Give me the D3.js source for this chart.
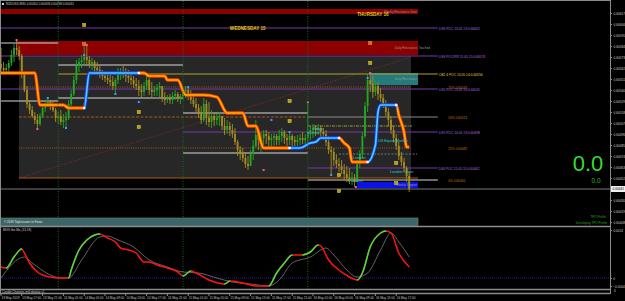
<!DOCTYPE html>
<html>
<head>
<meta charset="utf-8">
<script src="https://cdn.jsdelivr.net/npm/d3@7"></script>
<style>
  html, body { margin: 0; padding: 0; background: #000; overflow: hidden; }
  svg { display: block; }
  text { font-family: "Liberation Sans", "DejaVu Sans", sans-serif; }
</style>
</head>
<body>
<svg width="625" height="301"></svg>
<script>
// NZDUSD M30, bar 0 = 13 May 13:00, one bar per 30 minutes
const title = 'NZDUSD,M30  0.60454 0.60458 0.60438 0.60441';
const firstOpen = 0.60566;

const highs = [
  0.60582,0.60568,0.60566,0.60570,0.60580,0.60586,0.60590,0.60584,0.60576,0.60558,
  0.60544,0.60530,0.60524,0.60518,0.60516,0.60517,0.60526,0.60530,0.60532,0.60530,
  0.60528,0.60522,0.60518,0.60520,0.60516,0.60518,0.60530,0.60540,0.60554,0.60570,
  0.60572,0.60575,0.60586,0.60584,0.60574,0.60572,0.60570,0.60568,0.60564,0.60560,
  0.60558,0.60558,0.60556,0.60554,0.60552,0.60562,0.60562,0.60564,0.60562,0.60560,
  0.60558,0.60554,0.60552,0.60550,0.60546,0.60548,0.60555,0.60552,0.60548,0.60544,
  0.60546,0.60548,0.60544,0.60538,0.60535,0.60536,0.60538,0.60540,0.60538,0.60536,
  0.60542,0.60544,0.60543,0.60540,0.60536,0.60532,0.60526,0.60524,0.60532,0.60530,
  0.60528,0.60520,0.60518,0.60516,0.60518,0.60514,0.60512,0.60510,0.60508,0.60506,
  0.60502,0.60490,0.60484,0.60482,0.60478,0.60474,0.60480,0.60490,0.60510,0.60502,
  0.60498,0.60500,0.60500,0.60498,0.60496,0.60497,0.60496,0.60500,0.60502,0.60500,
  0.60496,0.60498,0.60496,0.60494,0.60495,0.60496,0.60498,0.60496,0.60528,0.60504,
  0.60506,0.60505,0.60506,0.60504,0.60502,0.60500,0.60494,0.60484,0.60482,0.60476,
  0.60472,0.60470,0.60466,0.60464,0.60462,0.60458,0.60456,0.60470,0.60480,0.60498,
  0.60528,0.60556,0.60557,0.60554,0.60550,0.60548,0.60542,0.60536,0.60530,0.60522,
  0.60514,0.60504,0.60496,0.60488,0.60478,0.60472,0.60464,0.60458
];
const lows = [
  0.60558,0.60556,0.60557,0.60558,0.60564,0.60568,0.60575,0.60570,0.60552,0.60538,
  0.60522,0.60516,0.60512,0.60506,0.60500,0.60504,0.60512,0.60518,0.60523,0.60520,
  0.60518,0.60508,0.60506,0.60505,0.60502,0.60502,0.60510,0.60524,0.60534,0.60546,
  0.60558,0.60562,0.60564,0.60566,0.60562,0.60560,0.60558,0.60556,0.60552,0.60550,
  0.60548,0.60546,0.60544,0.60540,0.60536,0.60546,0.60550,0.60552,0.60548,0.60547,
  0.60545,0.60542,0.60540,0.60534,0.60532,0.60534,0.60540,0.60535,0.60532,0.60534,
  0.60534,0.60533,0.60528,0.60525,0.60527,0.60526,0.60526,0.60530,0.60528,0.60526,
  0.60530,0.60532,0.60530,0.60526,0.60523,0.60518,0.60512,0.60506,0.60508,0.60505,
  0.60503,0.60502,0.60504,0.60505,0.60504,0.60500,0.60495,0.60496,0.60494,0.60492,
  0.60485,0.60474,0.60470,0.60468,0.60462,0.60460,0.60464,0.60470,0.60482,0.60480,
  0.60478,0.60485,0.60486,0.60484,0.60482,0.60484,0.60485,0.60485,0.60488,0.60486,
  0.60484,0.60485,0.60484,0.60484,0.60484,0.60485,0.60486,0.60484,0.60486,0.60490,
  0.60492,0.60494,0.60496,0.60492,0.60490,0.60484,0.60476,0.60455,0.60464,0.60462,
  0.60458,0.60456,0.60450,0.60448,0.60446,0.60445,0.60443,0.60450,0.60462,0.60472,
  0.60492,0.60518,0.60538,0.60532,0.60534,0.60530,0.60528,0.60522,0.60514,0.60504,
  0.60496,0.60488,0.60480,0.60470,0.60464,0.60458,0.60448,0.60438
];
const closes = [
  0.60562,0.60560,0.60562,0.60567,0.60575,0.60582,0.60580,0.60574,0.60556,0.60540,
  0.60526,0.60520,0.60514,0.60510,0.60506,0.60514,0.60522,0.60526,0.60530,0.60524,
  0.60520,0.60512,0.60514,0.60508,0.60510,0.60512,0.60526,0.60536,0.60550,0.60564,
  0.60568,0.60570,0.60573,0.60570,0.60566,0.60568,0.60562,0.60560,0.60556,0.60554,
  0.60552,0.60550,0.60548,0.60544,0.60550,0.60556,0.60558,0.60556,0.60554,0.60552,
  0.60550,0.60546,0.60544,0.60540,0.60538,0.60544,0.60550,0.60540,0.60538,0.60540,
  0.60542,0.60544,0.60532,0.60530,0.60532,0.60530,0.60534,0.60536,0.60532,0.60534,
  0.60538,0.60540,0.60536,0.60530,0.60526,0.60522,0.60516,0.60510,0.60526,0.60512,
  0.60508,0.60514,0.60510,0.60512,0.60514,0.60504,0.60500,0.60504,0.60500,0.60496,
  0.60488,0.60480,0.60476,0.60472,0.60466,0.60464,0.60476,0.60484,0.60495,0.60490,
  0.60492,0.60496,0.60494,0.60490,0.60492,0.60494,0.60490,0.60494,0.60498,0.60492,
  0.60490,0.60494,0.60490,0.60488,0.60490,0.60492,0.60490,0.60492,0.60498,0.60500,
  0.60502,0.60500,0.60502,0.60498,0.60496,0.60488,0.60480,0.60478,0.60470,0.60466,
  0.60464,0.60460,0.60456,0.60452,0.60450,0.60452,0.60448,0.60466,0.60476,0.60494,
  0.60524,0.60550,0.60546,0.60538,0.60544,0.60536,0.60532,0.60526,0.60518,0.60510,
  0.60500,0.60492,0.60484,0.60474,0.60468,0.60462,0.60454,0.60441
];

const timeLabels = ['13 May 2019','13 May 17:00','13 May 21:00','14 May 01:00','14 May 05:00',
  '14 May 09:00','14 May 13:00','14 May 17:00','14 May 21:00','15 May 01:00','15 May 05:00',
  '15 May 09:00','15 May 13:00','15 May 17:00','15 May 21:00','16 May 01:00','16 May 05:00',
  '16 May 09:00','16 May 13:00','16 May 17:00'];
const daySeparators = [22, 70, 118];
const priceTicks = [0.60408,0.60419,0.60430,0.60452,0.60463,0.60474,0.60485,0.60496,0.60507,
  0.60518,0.60529,0.60540,0.60551,0.60562,0.60573,0.60584,0.60595,0.60606,0.60617];

// zones: bar index from/to, price top/bottom
const zones = [
  {key: 'range', from: 6.9, to: 157.7, top: 0.60574, bottom: 0.60452, label: ''},
  {key: 'res', from: -1, to: 160.4, top: 0.60621, bottom: 0.60616, label: 'Weekly Resistance Zone'},
  {key: 'res', from: 6.2, to: 160.4, top: 0.60589, bottom: 0.60575, label: 'Daily Resistance, Touched'},
  {key: 'teal', from: 142, to: 160.4, top: 0.60557, bottom: 0.60545, label: 'Daily Resistance'},
  {key: 'sup', from: 137, to: 160.4, top: 0.60448, bottom: 0.60442, label: 'Weekly Support'}
];
const pocLevels = [
  {price: 0.60602, from: -1, label: '0.86 POC 13.05 13:0.60602'},
  {price: 0.60574, from: -1, label: '0.86 POC/PR 15.05 15:0.60574'},
  {price: 0.60541, from: -1, label: '0.85 POC 13.05 10:0.60541'},
  {price: 0.60498, from: 70, label: '0.85 POC 14.05 13:0.60498'},
  {price: 0.60462, from: 118, label: 'D40 POC 15.05 15:0.60462'}
];
const cbLevel = {price: 0.60556, from: 22, label: 'CB2 4 POC 13.05 14:0.60556'};
const dayHighLow = [
  {from: -1, to: 22, hi: 0.60587, lo: 0.60529},
  {from: 22, to: 70, hi: 0.60565, lo: 0.60532},
  {from: 70, to: 118, hi: 0.60517, lo: 0.60477}
];
const rangePct = ['75%', '50%', '25%', '0%'];
const rangePrice = [0.60543, 0.60513, 0.60482, 0.60450];
const rangeFloor = 0.60452;
const trendLine = [[7, 0.60452], [158, 0.60573]];

// step line: [bar, price, trend of the segment ending here]
const stepLine = [
  [0,0.60557,'dn'],[13,0.60557,'dn'],[15,0.60525,'dn'],[24,0.60525,'dn'],[26,0.60522,'dn'],[32,0.60522,'dn'],
  [34,0.60557,'up'],[53,0.60557,'up'],[55,0.60557,'dn'],[57,0.60554,'dn'],[63,0.60554,'dn'],[64,0.60550,'dn'],
  [68,0.60550,'dn'],[71,0.60535,'dn'],[78,0.60535,'dn'],[83,0.60533,'dn'],[87,0.60517,'dn'],[93,0.60517,'dn'],
  [95,0.60504,'dn'],[98,0.60504,'dn'],[101,0.60482,'dn'],[111,0.60482,'dn'],
  [115,0.60482,'up'],[119,0.60487,'up'],[121,0.60488,'up'],[123,0.60492,'up'],[130,0.60492,'up'],
  [132,0.60487,'dn'],[134,0.60482,'dn'],[135,0.60468,'dn'],[141,0.60468,'dn'],
  [144,0.60485,'up'],[145,0.60518,'up'],[146,0.60525,'up'],[152,0.60525,'up'],
  [153,0.60515,'dn'],[155,0.60498,'dn'],[156,0.60483,'dn'],[157,0.60483,'dn']
];

const yellowMarks = [[32,0.60605],[53,0.60518],[53,0.60503],[111,0.60529],[111,0.60509],
  [130,0.60455],[130,0.60439],[142,0.60567],[152,0.60467],[152,0.60447]];
const orangeMarks = [[32,0.60586],[142,0.60587]];
const blueDots = [[18,0.60532],[25,0.60502],[32,0.60575],[44,0.60536],[53,0.60528],[72,0.60543],
  [104,0.60510],[111,0.60498],[127,0.60455],[141,0.60552]];
const pinkDots = [[6,0.60590],[14,0.60501],[33,0.60585],[101,0.60460],[118,0.60528],[136.5,0.60443],[142,0.60557]];

const sessions = [
  {name: 'Sydney', bar: 117.7, price: 0.60497},
  {name: 'Tokyo', bar: 120, price: 0.60501},
  {name: 'Frankfurt', bar: 133.5, price: 0.60449},
  {name: 'London', bar: 135.4, price: 0.60472},
  {name: 'US Equity Market', bar: 145, price: 0.60489},
  {name: 'London Close', bar: 149.6, price: 0.60458}
];
const dayNames = [
  {name: 'WEDNESDAY 15', bar: 88, price: 0.60601},
  {name: 'THURSDAY 16', bar: 137, price: 0.60615}
];

// MGS Ibe-Ma (13,18)
const ibeBars = [0,2,5,8,9,11,14,16,19,22,26,27,30,33,36,38,41,44,46,49,52,55,57,60,64,68,70,73,75,80,
  86,88,93,98,103,106,109,112,116,119,122,123,126,130,134,137,139,142,146,148,150,153,157];
const ibeValues = [0.00055,0.0005,0.00105,0.00145,0.00125,0.00075,0.0003,0.00015,0.00005,0,
  0,0.0004,0.0014,0.0019,0.00215,0.0022,0.002,0.0018,0.0015,0.0014,
  0.00125,0.0008,0.0008,0.00065,0.0005,0.0003,0.0001,0.00035,0.00025,-0.0001,
  -0.0003,-0.00015,-0.00025,-0.0004,-0.0004,0.00025,0.00075,0.00115,0.00115,0.0013,
  0.00165,0.0016,0.0009,0.0004,0.00005,-0.0001,0.00025,0.00155,0.00225,0.00235,
  0.00225,0.00125,0.00055];
const sigBars = [0,9,12,19,23,26,31,38,41,45,51,57,64,70,76,83,89,96,103,107,112,119,125,128,133,137,141,146,150,153,157];
const sigValues = [0,0.00105,0.00075,0.00015,0,0,0.0009,0.00205,0.0021,0.0019,
  0.00155,0.0009,0.00055,0.0003,0.00025,0,-0.0002,-0.0003,-0.0004,-0.0001,
  0.00075,0.00105,0.0015,0.00115,0.0004,0.00005,0.00025,0.0014,0.00225,0.0018,0.00105];
const indTicks = [0.0024, 0, -0.0004];

// ---------------------------------------------------------------
const svg = d3.select('svg');
const plotRight = 610;
const x = d3.scaleLinear().domain([0, 157]).range([1, 409.2]);
const y = d3.scaleLinear().domain([0.60404, 0.60627]).range([226, 3]);
const yi = d3.scaleLinear().domain([-0.00055, 0.00245]).range([289, 229]);

svg.append('rect').attr('width', 625).attr('height', 301).attr('fill', '#000');

const defs = svg.append('defs');
defs.append('clipPath').attr('id', 'clipMain').append('rect')
  .attr('x', 0).attr('y', 1).attr('width', plotRight).attr('height', 225);
defs.append('clipPath').attr('id', 'clipInd').append('rect')
  .attr('x', 0).attr('y', 227).attr('width', plotRight).attr('height', 62);

function rangesClip(id, ranges, xs, top, h) {
  const cp = defs.append('clipPath').attr('id', id);
  ranges.forEach(r => cp.append('rect')
    .attr('x', xs(r[0]) - 0.3).attr('width', xs(r[1]) - xs(r[0]) + 0.6)
    .attr('y', top).attr('height', h));
}

function label(g, px, py, str, color, size, anchor, weight) {
  return g.append('text').attr('x', px).attr('y', py).text(str)
    .attr('fill', color).style('font-size', size + 'px')
    .attr('text-anchor', anchor || 'start').attr('dominant-baseline', 'middle')
    .style('font-weight', weight || 'normal');
}

const g = svg.append('g').attr('clip-path', 'url(#clipMain)');

// zones
const zoneFill = {range: '#272727', res: '#8c0000', teal: '#257a7b', sup: '#0b12e6'};
g.selectAll('rect.zone').data(zones).join('rect')
  .attr('x', d => x(d.from)).attr('width', d => x(d.to) - x(d.from))
  .attr('y', d => y(d.top)).attr('height', d => y(d.bottom) - y(d.top))
  .attr('fill', d => zoneFill[d.key]);
zones.filter(d => d.label).forEach(d =>
  label(g, x(d.to) + (d.key === 'res' && d.from > 0 ? 12 : -1), (y(d.top) + y(d.bottom)) / 2 + 0.5,
    d.label, '#9a9a9a', 3, 'end'));

function hline(from, to, price, color, dash, w) {
  g.append('line').attr('x1', x(from)).attr('x2', x(to)).attr('y1', y(price)).attr('y2', y(price))
    .attr('stroke', color).attr('stroke-width', w || 1).attr('stroke-dasharray', dash || null);
}

// trend line
g.append('line')
  .attr('x1', x(trendLine[0][0])).attr('y1', y(trendLine[0][1]))
  .attr('x2', x(trendLine[1][0])).attr('y2', y(trendLine[1][1]))
  .attr('stroke', '#8a2a2a').attr('stroke-width', 1).attr('stroke-dasharray', '1,1.6');

// range levels
hline(6.9, 157.7, rangePrice[0], '#a8581a', '1,1.2');
hline(6.9, 118, rangePrice[1], '#a8581a', '3,1.5');
hline(6.9, 157.7, rangePrice[2], '#a8581a', '1,1.2');
hline(118, 168, rangePrice[1], '#8c8c8c', null, 1);
hline(118, 168, rangePrice[3], '#d8d8d8', null, 1.2);
hline(6.9, 160.4, rangeFloor, '#b05a12', null, 1);
hline(118, 158, 0.60504, '#a0a030', '3,1,1,1');
hline(130, 160, 0.60476, '#5a8080', '2,1.5');
rangePct.forEach((p, k) =>
  label(g, x(172), y(rangePrice[k]) + 1, p + ' ' + d3.format('.5f')(rangePrice[k]), '#c8701a', 3.2));

// day high / low lines
dayHighLow.forEach(d => {
  hline(d.from, d.to, d.hi, '#d8d8d8', null, 1.2);
  hline(d.from, d.to, d.lo, '#d8d8d8', null, 1.2);
});

// POC lines
pocLevels.forEach(d => {
  hline(d.from, 168, d.price, '#7a38a8', null, 1);
  label(g, x(168) + 1, y(d.price) + 1.5, d.label, '#b068e0', 3.3);
});
hline(cbLevel.from, 168, cbLevel.price, '#a8a828', null, 1);
label(g, x(168) + 1, y(cbLevel.price) + 1.5, cbLevel.label, '#e0d040', 3.3);

// bid line
const last = closes[closes.length - 1];
g.append('line').attr('x1', 0).attr('x2', plotRight).attr('y1', y(last)).attr('y2', y(last))
  .attr('stroke', '#787878').attr('stroke-width', 1);

// day separators (both panes)
svg.append('g').selectAll('line').data(daySeparators).join('line')
  .attr('x1', d => x(d)).attr('x2', d => x(d)).attr('y1', 1).attr('y2', 289)
  .attr('stroke', '#1c6a1c').attr('stroke-width', 1).attr('stroke-dasharray', '1,1.5');

// candles
const bars = closes.map((c, i) => ({i, o: i ? closes[i - 1] : firstOpen, h: highs[i], l: lows[i], c}));
const candleColor = d => d.c >= d.o ? '#23a823' : '#a68e1e';
g.selectAll('line.wick').data(bars).join('line')
  .attr('x1', d => x(d.i)).attr('x2', d => x(d.i))
  .attr('y1', d => y(Math.max(d.h, d.o, d.c))).attr('y2', d => y(Math.min(d.l, d.o, d.c)))
  .attr('stroke', candleColor).attr('stroke-width', 0.9);
g.selectAll('rect.body').data(bars).join('rect')
  .attr('x', d => x(d.i) - 0.9).attr('width', 1.8)
  .attr('y', d => y(Math.max(d.o, d.c)))
  .attr('height', d => Math.max(0.8, Math.abs(y(d.o) - y(d.c))))
  .attr('fill', candleColor);

// step line, orange when falling and blue when rising
const upR = [], dnR = [];
for (let k = 1; k < stepLine.length; k++) {
  (stepLine[k][2] === 'up' ? upR : dnR).push([stepLine[k - 1][0], stepLine[k][0]]);
}
rangesClip('clipUp', upR, x, 0, 226);
rangesClip('clipDn', dnR, x, 0, 226);
const stepD = d3.line().x(d => x(d[0])).y(d => y(d[1])).curve(d3.curveMonotoneX)(stepLine);
[['clipDn', '#ff3c00', '#ffb000'], ['clipUp', '#0a46ff', '#50ccff']].forEach(([cp, outer, inner]) => {
  const sg = g.append('g').attr('clip-path', `url(#${cp})`);
  sg.append('path').attr('d', stepD).attr('fill', 'none').attr('stroke', outer).attr('stroke-width', 3.3);
  sg.append('path').attr('d', stepD).attr('fill', 'none').attr('stroke', inner).attr('stroke-width', 1.7);
});
const turns = stepLine.filter((d, k) => k > 0 && k < stepLine.length - 1 && stepLine[k + 1][2] !== d[2]);
g.selectAll('rect.turn').data(turns).join('rect')
  .attr('x', d => x(d[0]) - 1.2).attr('y', d => y(d[1]) - 1.2).attr('width', 2.4).attr('height', 2.4)
  .attr('fill', '#e8f4ff');

// markers
g.selectAll('rect.ym').data(yellowMarks).join('rect')
  .attr('x', d => x(d[0]) - 1.6).attr('y', d => y(d[1]) - 1.6).attr('width', 3.2).attr('height', 3.2)
  .attr('fill', '#b49e10').attr('stroke', '#e0cc30').attr('stroke-width', 0.5);
g.selectAll('rect.om').data(orangeMarks).join('rect')
  .attr('x', d => x(d[0]) - 1.6).attr('y', d => y(d[1]) - 1.6).attr('width', 3.2).attr('height', 3.2)
  .attr('fill', '#d86a10').attr('stroke', '#f09040').attr('stroke-width', 0.5);
g.selectAll('rect.bd').data(blueDots).join('rect')
  .attr('x', d => x(d[0]) - 1).attr('y', d => y(d[1]) - 1).attr('width', 2).attr('height', 2)
  .attr('fill', '#3a9cff');
g.selectAll('rect.pd').data(pinkDots).join('rect')
  .attr('x', d => x(d[0]) - 1).attr('y', d => y(d[1]) - 1).attr('width', 2).attr('height', 2)
  .attr('fill', '#e060a8');

// session and day labels
sessions.forEach(s => label(g, x(s.bar), y(s.price), s.name, '#2cc8c8', 3.8));
dayNames.forEach(s => label(g, x(s.bar), y(s.price), s.name, '#e8c814', 4.6, 'start', 'bold'));

// title
g.append('rect').attr('x', 2).attr('y', 3).attr('width', 2).attr('height', 2).attr('fill', '#d0d0d0');
label(g, 6, 4.3, title, '#c8c8c8', 3.1);

// footer bar of main pane
svg.append('rect').attr('x', 0).attr('y', 218).attr('width', 418).attr('height', 7.5)
  .attr('fill', '#3c6565').attr('stroke', '#5c8a8a').attr('stroke-width', 0.6);
label(svg, 4, 221.8, '\u00a9 2019 TopLessons In Forex', '#e8e8e8', 3);

// big readout and right side texts
label(svg, 588, 165.5, '0.0', '#33dd33', 22, 'middle');
label(svg, 596, 181.5, '0.0', '#2cb82c', 6.5, 'middle');
label(svg, 606, 217, 'TPO Profile', '#22a822', 3, 'end');
label(svg, 607, 223.5, 'Developing TPO Profile', '#22a822', 3, 'end');

// ---------------- indicator pane ----------------
const gi = svg.append('g').attr('clip-path', 'url(#clipInd)');
gi.append('line').attr('x1', 0).attr('x2', plotRight).attr('y1', yi(0)).attr('y2', yi(0))
  .attr('stroke', '#1c1c9a').attr('stroke-width', 1).attr('stroke-dasharray', '1,1');
const sigD = d3.line().x((d, k) => x(sigBars[k])).y(d => yi(d)).curve(d3.curveMonotoneX)(sigValues);
gi.append('path').attr('d', sigD).attr('fill', 'none').attr('stroke', '#7c7c7c').attr('stroke-width', 0.8);
const ibeD = d3.line().x((d, k) => x(ibeBars[k])).y(d => yi(d)).curve(d3.curveMonotoneX)(ibeValues);
const riseR = [];
for (let k = 1; k < ibeValues.length; k++) {
  if (ibeValues[k] > ibeValues[k - 1]) riseR.push([ibeBars[k - 1], ibeBars[k]]);
}
rangesClip('clipRise', riseR, x, 227, 62);
gi.append('path').attr('d', ibeD).attr('fill', 'none').attr('stroke', '#ff1414').attr('stroke-width', 1.5);
gi.append('g').attr('clip-path', 'url(#clipRise)').append('path').attr('d', ibeD)
  .attr('fill', 'none').attr('stroke', '#3ce63c').attr('stroke-width', 1.5);
label(svg, 3, 230.5, 'MGS  Ibe-Ma (13,18)', '#c8c8c8', 3.1);
label(svg, 2, 292, 'Candle Changes mt4 display v1', '#c8c8c8', 3);

// ---------------- frame and axes ----------------
const frame = svg.append('g').attr('stroke', '#8c8c8c').attr('stroke-width', 1);
frame.append('line').attr('x1', 0).attr('x2', plotRight).attr('y1', 0.5).attr('y2', 0.5);
frame.append('line').attr('x1', 0.5).attr('x2', 0.5).attr('y1', 0).attr('y2', 294);
frame.append('line').attr('x1', plotRight + 0.5).attr('x2', plotRight + 0.5).attr('y1', 0).attr('y2', 294);
[226.5, 289.5, 293.5].forEach(v =>
  frame.append('line').attr('x1', 0).attr('x2', plotRight).attr('y1', v).attr('y2', v).attr('stroke-width', 1.3));

function styleAxis(a) {
  a.select('.domain').remove();
  a.selectAll('line').attr('stroke', '#8c8c8c');
  a.selectAll('text').attr('fill', '#c8c8c8').style('font-size', '3.2px')
    .style('font-family', '"Liberation Sans", sans-serif');
}
const ay = svg.append('g').attr('transform', `translate(${plotRight},0)`)
  .call(d3.axisRight(y).tickValues(priceTicks).tickFormat(d3.format('.5f')).tickSize(2).tickPadding(1.5));
styleAxis(ay);
const ai = svg.append('g').attr('transform', `translate(${plotRight},0)`)
  .call(d3.axisRight(yi).tickValues(indTicks).tickFormat(d => d === 0 ? '0' : d3.format('.4f')(d)).tickSize(2).tickPadding(1.2));
styleAxis(ai);
label(svg, 614, 291.5, '0', '#c8c8c8', 3.2);

// current price tag
svg.append('rect').attr('x', 611).attr('y', y(last) - 3).attr('width', 14).attr('height', 6).attr('fill', '#f0f0f0');
label(svg, 612.5, y(last) + 0.3, d3.format('.5f')(last), '#000', 3.2);

// time axis
const tg = svg.append('g');
timeLabels.forEach((t, k) => {
  const tx = x(k * 8);
  tg.append('line').attr('x1', tx).attr('x2', tx).attr('y1', 294).attr('y2', 296).attr('stroke', '#8c8c8c');
  label(tg, tx + 0.5, 298, t, '#c8c8c8', 3.1);
});
</script>
</body>
</html>
